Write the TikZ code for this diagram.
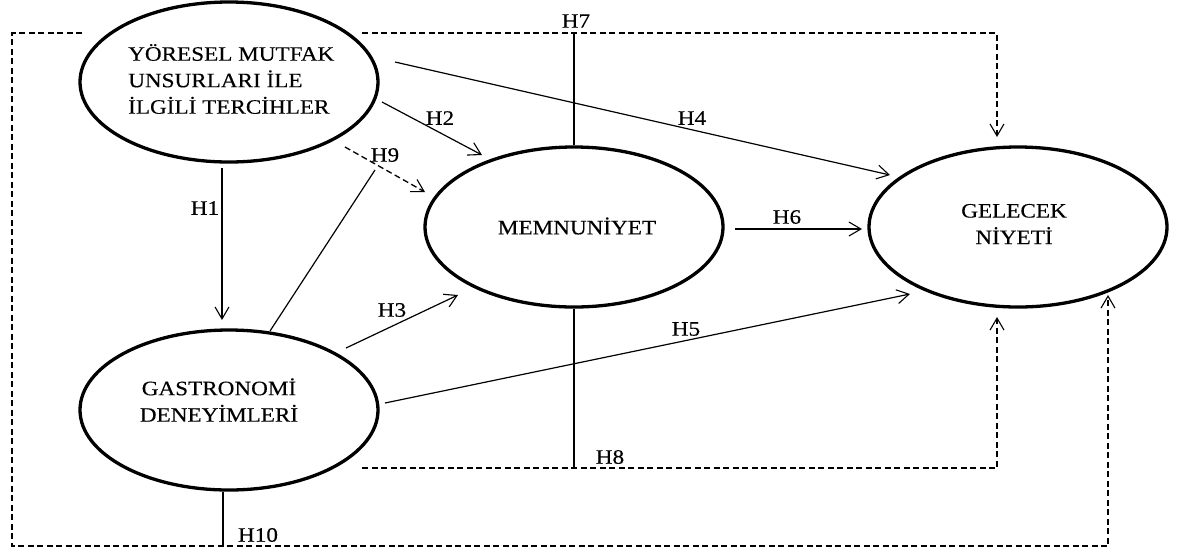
\documentclass[tikz,border=0pt]{standalone}
\usepackage{fontspec}
\setmainfont{Liberation Serif}
\newfontfamily\df[FakeStretch=1.13,FakeBold=0.3]{Liberation Serif}
\usetikzlibrary{shapes.geometric,arrows.meta}
\begin{document}
\begin{tikzpicture}[x=1pt,y=-1pt,
  ell/.style={ellipse,draw,line width=3.3pt,minimum width=298pt,minimum height=160pt,inner sep=0pt},
  txt/.style={font=\df\fontsize{20.5}{26.5}\selectfont,inner sep=0pt,align=center},
  lbl/.style={font=\df\fontsize{20.5}{24}\selectfont,inner sep=0pt},
  tip/.style={-{Straight Barb[length=12pt,width=14pt,line width=1.1pt]}},
  conn/.style={line width=1.2pt,tip},
  plainline/.style={line width=1.2pt},
  dline/.style={line width=1.3pt,dash pattern=on 6pt off 3.5pt}
]
\useasboundingbox (0,0) rectangle (1182,550);

% ellipses
\node[ell] (yor) at (229,82) {};
\node[ell] (mem) at (574,227) {};
\node[ell] (gel) at (1018,227) {};
\node[ell] (gas) at (229,410) {};

% ellipse texts
\node[txt,align=left,anchor=west] (yort) at (128,79) {YÖRESEL MUTFAK\\UNSURLARI İLE\\İLGİLİ TERCİHLER};
\node[txt] (memt) at (577,226) {MEMNUNİYET};
\node[txt] (gelt) at (1014,224) {GELECEK\\NİYETİ};
\node[txt] (gast) at (219,400) {GASTRONOMİ\\DENEYİMLERİ};

% coordinates for the dashed frames
\coordinate (tlA) at (82,33);
\coordinate (tl) at (12,33);
\coordinate (bl) at (12,546);
\coordinate (br) at (1108,546);
\coordinate (brE) at (1108,295);
\coordinate (tlB) at (362,33);
\coordinate (tr) at (997,33);
\coordinate (trE) at (997,137);
\coordinate (b8s) at (362,468);
\coordinate (b8c) at (997,468);
\coordinate (b8e) at (997,317);
\coordinate (h9m) at (375,170);
\coordinate (h10e) at (223,546);

% dashed frames
\draw[dline,tip] (tlA) -- (tl) -- (bl) -- (br) -- (brE);
\draw[dline,tip] (tlB) -- (tr) -- (trE);
\draw[dline,tip] (b8s) -- (b8c) -- (b8e);

% solid connectors
\draw[conn] ([shift={(-7,86)}]yor.center) -- ([shift={(-7,-90)}]gas.center);
\draw[conn] ([shift={(153,20)}]yor.center) -- ([shift={(-92,-72)}]mem.center);
\draw[conn] ([shift={(166,-20)}]yor.center) -- ([shift={(-128,-52)}]gel.center);
\draw[conn] ([shift={(117,-62)}]gas.center) -- ([shift={(-116,68)}]mem.center);
\draw[conn] ([shift={(156,-7)}]gas.center) -- ([shift={(-108,67)}]gel.center);
\draw[conn] ([shift={(161,2)}]mem.center) -- ([shift={(-156,2)}]gel.center);
\draw[dline,tip] ([shift={(116,65)}]yor.center) -- ([shift={(-149,-35)}]mem.center);
\draw[plainline] ([shift={(41,-79)}]gas.center) -- (h9m);
\draw[plainline] (mem.north) -- (mem.north |- tr);
\draw[plainline] (mem.south) -- (mem.south |- b8c);
\draw[plainline] (h10e |- gas.south) -- (h10e);

% labels
\node[lbl] (l1) at (205,208) {H1};
\node[lbl] (l2) at (440,118) {H2};
\node[lbl] (l3) at (392,310) {H3};
\node[lbl] (l4) at (692,118) {H4};
\node[lbl] (l5) at (686,329) {H5};
\node[lbl] (l6) at (787,217) {H6};
\node[lbl] (l7) at (576,21) {H7};
\node[lbl] (l8) at (610,457) {H8};
\node[lbl] (l9) at (385,155) {H9};
\node[lbl] (l10) at (258,535) {H10};
\end{tikzpicture}
\end{document}
